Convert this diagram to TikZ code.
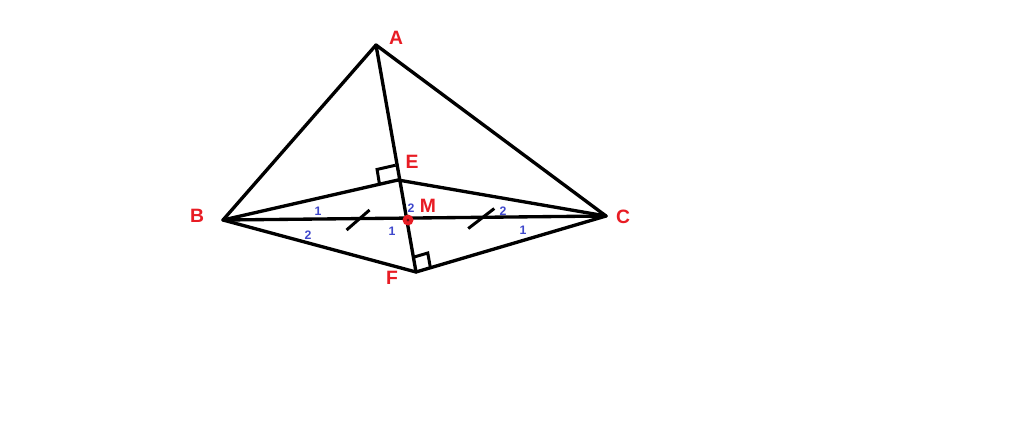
\documentclass[tikz,border=0pt]{standalone}
\usepackage{fontspec}
\setmainfont{Liberation Sans}
\usetikzlibrary{calc}
\definecolor{lblred}{RGB}{232,28,36}
\definecolor{lblblue}{RGB}{63,72,204}
\tikzset{
  seg/.style={line width=1.9pt, line cap=round, line join=round},
  markline/.style={line width=1.7pt},
  ptlabel/.style={text=lblred, font=\bfseries\fontsize{11}{13}\selectfont, inner sep=0pt},
  anglabel/.style={text=lblblue, font=\bfseries\fontsize{7}{8}\selectfont, inner sep=0pt},
}
\begin{document}
\begin{tikzpicture}[x=0.02cm,y=-0.02cm]
\useasboundingbox (0,0) rectangle (1024,437);
\fill[white] (0,0) rectangle (1024,437);
\coordinate (A) at (376,45);
\coordinate (B) at (223,220);
\coordinate (C) at (606,216);
\coordinate (E) at (398,180);
\coordinate (F) at (416,272);
\coordinate (M) at (408,220);
% triangle and lines
\draw[seg] (A) -- (B);
\draw[seg] (A) -- (C);
\draw[seg] (A) -- (F);
\draw[seg] (B) -- (C);
\draw[seg] (B) -- (E) -- (C);
\draw[seg] (B) -- (F) -- (C);
% right angle marks
\coordinate (e1) at ($(E)!0.3cm!(A)$);
\coordinate (e2) at ($(E)!0.38cm!(B)$);
\draw[markline] (e1) -- ($(e1)+(e2)-(E)$) -- (e2);
\coordinate (f1) at ($(F)!0.3cm!(A)$);
\coordinate (f2) at ($(F)!0.3cm!(C)$);
\draw[markline] (f1) -- ($(f1)+(f2)-(F)$) -- (f2);
% equal ticks
\coordinate (t1) at ($(B)!0.73!(M)$);
\coordinate (t2) at ($(M)!0.37!(C)$);
\draw[markline] ($(t1)+(-11.5,10)$) -- ($(t1)+(11.5,-10)$);
\draw[markline] ($(t2)+(-13,10)$) -- ($(t2)+(13,-10)$);
% point M
\node[circle, fill=lblred, minimum size=0.22cm, inner sep=0pt] (Mdot) at (M) {};
\fill[black!55!lblred] (M) circle (1.5);
% point labels
\node[ptlabel] (lA) at (396,38) {A};
\node[ptlabel] (lB) at (197,216) {B};
\node[ptlabel] (lC) at (623,217) {C};
\node[ptlabel] (lE) at (412,162) {E};
\node[ptlabel] (lF) at (392,278) {F};
\node[ptlabel] (lM) at (428,206) {M};
% angle labels
\node[anglabel] (a1) at (318,211) {1};
\node[anglabel] (a2) at (308,235) {2};
\node[anglabel] (a3) at (392,231) {1};
\node[anglabel] (a4) at (411,208) {2};
\node[anglabel] (a5) at (503,211) {2};
\node[anglabel] (a6) at (523,230) {1};
\end{tikzpicture}
\end{document}
